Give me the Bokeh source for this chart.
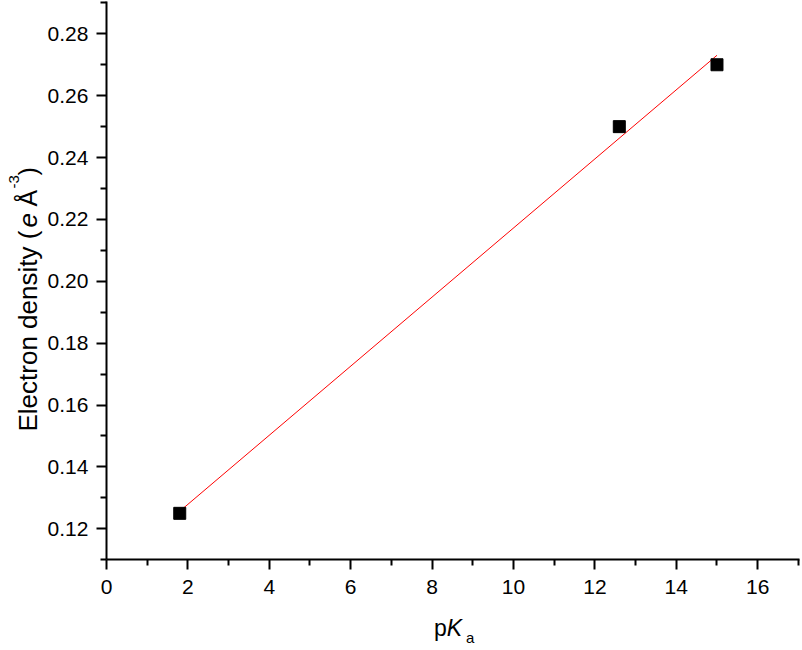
import numpy as np
from bokeh.plotting import figure
from bokeh.models import ColumnDataSource, FixedTicker, PrintfTickFormatter, Label, Range1d
from bokeh.embed import file_html
from bokeh.resources import INLINE

# data
pka = [1.8, 12.6, 15.0]
density = [0.125, 0.25, 0.27]

x_major = [0, 2, 4, 6, 8, 10, 12, 14, 16]
x_minor = [1, 3, 5, 7, 9, 11, 13, 15, 17]
y_major = [0.12, 0.14, 0.16, 0.18, 0.20, 0.22, 0.24, 0.26, 0.28]
y_minor = [0.11, 0.13, 0.15, 0.17, 0.19, 0.21, 0.23, 0.25, 0.27, 0.29]

FONT = "Liberation Sans"
W, H = 800, 648

# frame covers the whole canvas; axes are pinned at x=0 / y=0.11
p = figure(width=W, height=H, output_backend="svg", toolbar_location=None,
           x_range=Range1d(-2.604, 17.052), y_range=Range1d(0.08131, 0.29077),
           min_border_left=0, min_border_right=0, min_border_top=0, min_border_bottom=0)
p.outline_line_color = None
p.xgrid.visible = False
p.ygrid.visible = False

for ax in (p.xaxis[0], p.yaxis[0]):
    ax.axis_line_width = 2
    ax.axis_line_color = "black"
    ax.major_tick_line_width = 2
    ax.minor_tick_line_width = 2
    ax.major_tick_out = 10
    ax.major_tick_in = 0
    ax.minor_tick_out = 6
    ax.minor_tick_in = 0
    ax.major_label_text_font = FONT
    ax.major_label_text_font_size = "21px"
    ax.major_label_text_color = "black"

p.xaxis.fixed_location = 0.11
p.yaxis.fixed_location = 0
p.xaxis.bounds = (0, 17.03)
p.yaxis.bounds = (0.11, 0.2904)
p.xaxis.ticker = FixedTicker(ticks=x_major, minor_ticks=x_minor)
p.yaxis.ticker = FixedTicker(ticks=y_major, minor_ticks=y_minor)
p.yaxis.formatter = PrintfTickFormatter(format="%.2f")
p.xaxis.major_label_standoff = 10
p.yaxis.major_label_standoff = 8

# linear fit through the data
slope, intercept = np.polyfit(pka, density, 1)
fx = [min(pka), max(pka)]
fy = [slope * v + intercept for v in fx]
p.line(fx, fy, line_color="#ff0000", line_width=1)

src = ColumnDataSource(dict(x=pka, y=density))
p.scatter("x", "y", source=src, marker="square", size=12, fill_color="black", line_color="black")


def lab(x, y, text, size, style="normal", angle=0.0):
    # x, y: pixel position from the top-left of the canvas
    p.add_layout(Label(x=x, y=H - y, x_units="screen", y_units="screen", text=text, angle=angle,
                       text_font=FONT, text_font_size=f"{size}px", text_font_style=style,
                       text_baseline="alphabetic", text_color="black"))


# x-axis title: p K_a
lab(433.5, 627, "p", 23)
lab(446.3, 627, "K", 23, "italic")
lab(465.5, 637, "a", 15)

# y-axis title: Electron density (e Å^-3)
A = np.pi / 2
lab(27, 431, "Electron density (", 26, angle=A)
lab(27, 227, "e", 26, "italic", angle=A)
lab(27, 206, "Å", 25, angle=A)
lab(13, 188, "-3", 15, angle=A)
lab(27, 175, ")", 25, angle=A)

open("out.html", "w").write(file_html(p, INLINE))
